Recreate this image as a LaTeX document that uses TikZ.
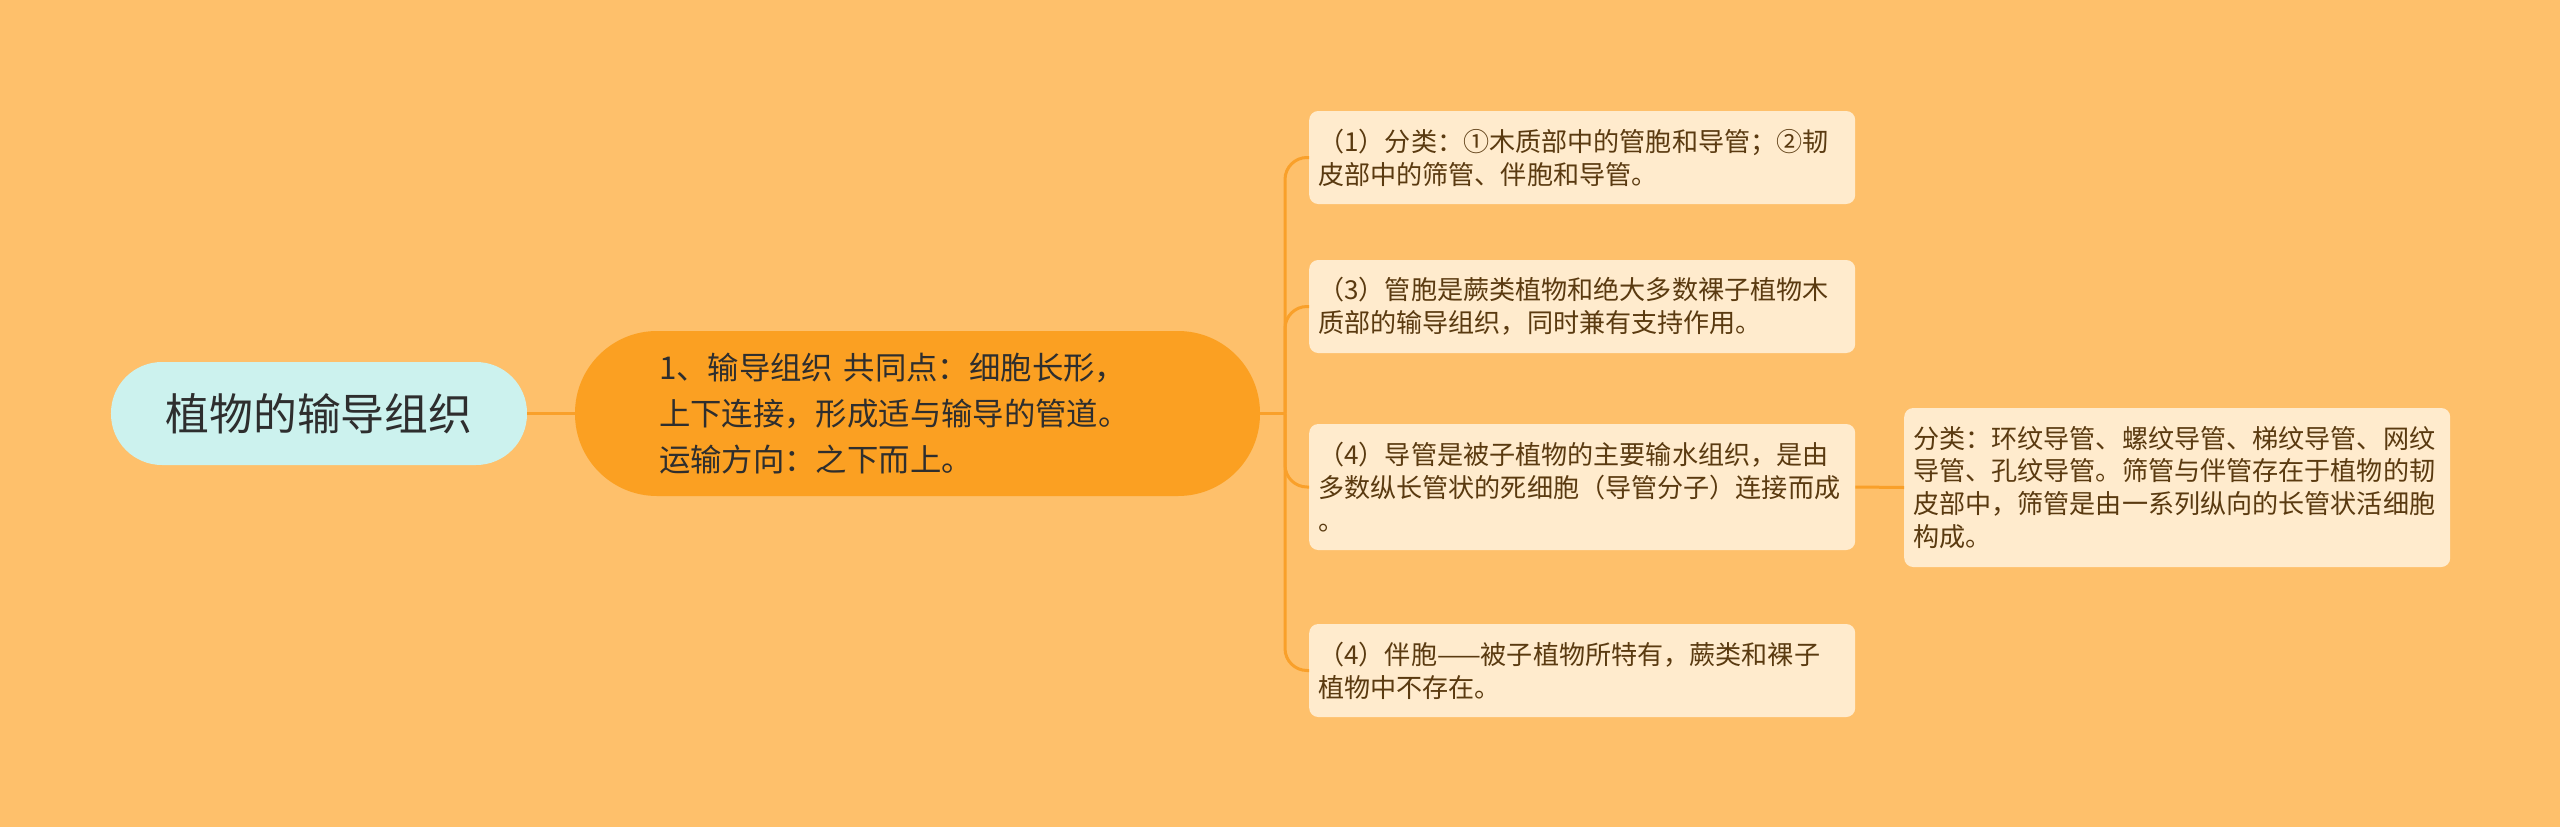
\documentclass[tikz,border=0pt]{standalone}
\usepackage{fontspec}
\setmainfont{Noto Sans CJK SC}
\definecolor{bgc}{HTML}{FEC06B}
\definecolor{mainc}{HTML}{FBA022}
\definecolor{rootc}{HTML}{CCF2EE}
\definecolor{childc}{HTML}{FFEBCD}
\definecolor{linec}{HTML}{F9A02A}
\definecolor{browntxt}{HTML}{5A3A10}
\definecolor{darktxt}{HTML}{2E2E2E}
\begin{document}
\begin{tikzpicture}[x=1bp,y=-1bp,
  rootbox/.style={rectangle, rounded corners=51bp, fill=rootc, minimum width=416bp, minimum height=103bp,
    inner sep=0pt, text=darktxt, font=\fontsize{44}{50}\selectfont},
  mainbox/.style={rectangle, rounded corners=82bp, fill=mainc, text width=517bp, inner xsep=84bp, inner ysep=0pt,
    minimum height=165bp, align=left, text=darktxt, font=\fontsize{31.5}{46}\selectfont},
  childbox/.style={rectangle, rounded corners=9bp, fill=childc, text width=528bp, inner xsep=9bp, inner ysep=0pt,
    align=left, anchor=west, text=browntxt, font=\fontsize{26.2}{33}\selectfont},
  conn/.style={draw=linec, line width=3bp},
  branch/.style={conn, rounded corners=22bp}]
\useasboundingbox[fill=bgc] (0,0) rectangle (2560,827);

\node[rootbox] (root) at (319,413.5) {植物的输导组织};
\node[mainbox] (main) at (917.5,413.5) {1、输导组织 共同点：细胞长形，\\上下连接，形成适与输导的管道。\\运输方向：之下而上。};

\node[childbox, minimum height=93bp] (c1) at (1309,157.5) {（1）分类：①木质部中的管胞和导管；②韧\\皮部中的筛管、伴胞和导管。};
\node[childbox, minimum height=93bp] (c2) at (1309,306.5) {（3）管胞是蕨类植物和绝大多数裸子植物木\\质部的输导组织，同时兼有支持作用。};
\node[childbox, minimum height=126bp] (c3) at (1309,487) {（4）导管是被子植物的主要输水组织，是由\\多数纵长管状的死细胞（导管分子）连接而成\\。};
\node[childbox, minimum height=93bp] (c4) at (1309,670.5) {（4）伴胞——被子植物所特有，蕨类和裸子\\植物中不存在。};
\node[childbox, minimum height=159bp] (g1) at (1904,487.5) {分类：环纹导管、螺纹导管、梯纹导管、网纹\\导管、孔纹导管。筛管与伴管存在于植物的韧\\皮部中，筛管是由一系列纵向的长管状活细胞\\构成。};

\coordinate (tr) at (1285,413.5);
\draw[conn] (root.east) -- (main.west);
\draw[conn] (main.east) -- (tr);
\draw[branch] (tr) |- (c1.west);
\draw[branch] (tr) |- (c2.west);
\draw[branch] (tr) |- (c3.west);
\draw[branch] (tr) |- (c4.west);
\draw[conn] (c3.east) -- (g1.west);
\end{tikzpicture}
\end{document}
